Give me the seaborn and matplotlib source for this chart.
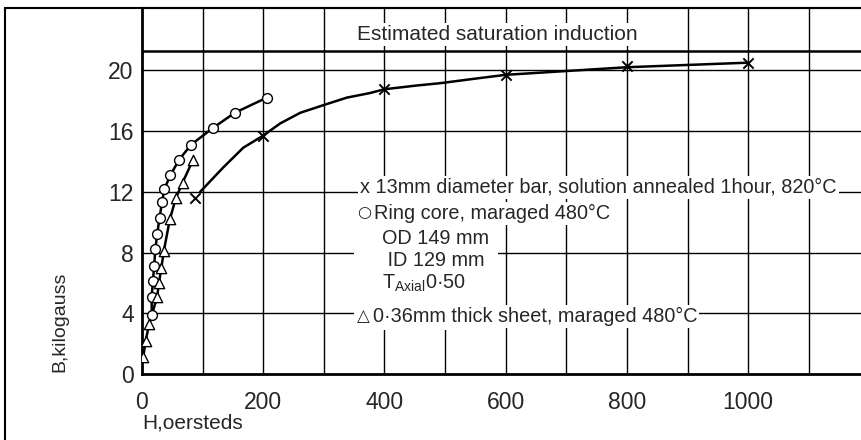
import matplotlib
matplotlib.use("Agg")
import matplotlib.pyplot as plt
from matplotlib.lines import Line2D
from matplotlib.patches import Rectangle
import seaborn as sns
import pandas as pd

# ---- data ----
bar_H = [87, 200, 400, 600, 800, 1000]
bar_B = [11.6, 15.7, 18.75, 19.7, 20.3, 20.5]
bar_curve_H = [96, 134, 167, 200, 228, 261, 299, 338, 376, 400, 454, 492, 550, 600, 700, 800, 900, 1000]
bar_curve_B = [12.0, 13.6, 14.9, 15.7, 16.5, 17.2, 17.7, 18.2, 18.5, 18.75, 19.0, 19.15, 19.45, 19.7, 19.95, 20.2, 20.35, 20.5]

ring_H = [16, 16, 18, 20, 22, 25, 29, 33, 37, 47, 61, 81, 117, 153, 206]
ring_B = [3.9, 5.1, 6.1, 7.1, 8.2, 9.2, 10.3, 11.3, 12.2, 13.1, 14.1, 15.1, 16.2, 17.2, 18.2]

sheet_H = [2, 6, 12, 25, 28, 32, 36, 46, 56, 67, 84]
sheet_B = [1.1, 2.2, 3.3, 5.1, 6.0, 7.0, 8.1, 10.2, 11.6, 12.6, 14.1]

saturation_B = 21.3
x_ticks = [0, 200, 400, 600, 800, 1000]
y_ticks = [0, 4, 8, 12, 16, 20]
x_grid = [100, 200, 300, 400, 500, 600, 700, 800, 900, 1000, 1100]
y_grid = [4, 8, 12, 16, 20]

sat_label = "Estimated saturation induction"
bar_label = "x 13mm diameter bar, solution annealed 1hour, 820°C"
ring_symbol = "○"
ring_label = "Ring core, maraged 480°C"
ring_od = "OD 149 mm"
ring_id = " ID 129 mm"
ring_t = r"T$_{\mathrm{Axial}}$0·50"
sheet_symbol = "△"
sheet_label = "0·36mm thick sheet, maraged 480°C"
x_label = "H,oersteds"
y_label = "B,kilogauss"

# ---- drawing ----
sns.set_style("white")
plt.rcParams["font.family"] = ["Liberation Sans", "DejaVu Sans"]
plt.rcParams["mathtext.fontset"] = "custom"
plt.rcParams["mathtext.rm"] = "Liberation Sans"

fig = plt.figure(figsize=(8.61, 4.40), dpi=100)
W, H = 861, 440
ax = fig.add_axes([142 / W, (H - 374) / H, (W - 142) / W, (374 - 8) / H])
ax.set_xlim(0, 1186)
ax.set_ylim(0, 24.1)

for gx in x_grid:
    ax.axvline(gx, color="black", lw=1.0, zorder=1)
for gy in y_grid:
    ax.axhline(gy, color="black", lw=1.0, zorder=1)
ax.axhline(saturation_B, color="black", lw=1.8, zorder=1)

df_curve = pd.DataFrame({"H": bar_curve_H, "B": bar_curve_B})
df_ring = pd.DataFrame({"H": ring_H, "B": ring_B})
df_sheet = pd.DataFrame({"H": sheet_H, "B": sheet_B})
df_bar = pd.DataFrame({"H": bar_H, "B": bar_B})

for d in (df_curve, df_ring, df_sheet):
    sns.lineplot(data=d, x="H", y="B", sort=False, estimator=None, color="black",
                 lw=1.8, ax=ax, zorder=4)

sns.scatterplot(data=df_ring, x="H", y="B", marker="o", s=50, facecolor="white",
                edgecolor="black", linewidth=1.0, ax=ax, zorder=5)
sns.scatterplot(data=df_sheet, x="H", y="B", marker="^", s=55, facecolor="white",
                edgecolor="black", linewidth=1.0, ax=ax, zorder=5)
sns.scatterplot(data=df_bar, x="H", y="B", marker="x", s=55, color="black",
                linewidth=1.4, ax=ax, zorder=5)

# white block behind the ring-core description
ax.add_patch(Rectangle((350, 2.9), 238, 8.8, facecolor="white", edgecolor="none", zorder=2))

tb = dict(facecolor="white", edgecolor="none", pad=1.5)
ax.text(586, 22.35, sat_label, ha="center", va="center", fontsize=15, zorder=3, bbox=tb)
ax.text(360, 12.3, bar_label, ha="left", va="center", fontsize=14.3, zorder=3, bbox=tb)
ax.text(382, 10.6, ring_label, ha="left", va="center", fontsize=14.3, zorder=3, bbox=tb)
ax.text(396, 8.95, ring_od, ha="left", va="center", fontsize=14.3, zorder=3, bbox=tb)
ax.text(396, 7.5, ring_id, ha="left", va="center", fontsize=14.3, zorder=3, bbox=tb)
ax.text(396, 6.0, ring_t, ha="left", va="center", fontsize=14.3, zorder=3, bbox=tb)
ax.text(381, 3.8, sheet_label, ha="left", va="center", fontsize=14.3, zorder=3, bbox=tb)
ax.text(366, 10.65, ring_symbol, ha="center", va="center", fontsize=11.5,
        family="DejaVu Sans", zorder=3.5)
ax.text(365, 3.85, sheet_symbol, ha="center", va="center", fontsize=12,
        family="DejaVu Sans", zorder=3.5)

ax.set_xticks(x_ticks)
ax.set_yticks(y_ticks)
ax.set_xticklabels([str(v) for v in x_ticks], fontsize=16.5)
ax.set_yticklabels([str(v) for v in y_ticks], fontsize=16.5)
ax.tick_params(axis="both", length=0)
ax.tick_params(axis="x", pad=12)
ax.tick_params(axis="y", pad=6)
ax.set_xlabel("")
ax.set_ylabel("")

ax.spines["right"].set_visible(False)
ax.spines["left"].set_linewidth(2.0)
ax.spines["bottom"].set_linewidth(2.0)
ax.spines["top"].set_linewidth(1.5)
for s in ("left", "bottom", "top"):
    ax.spines[s].set_color("black")

fig.text(60 / W, 1 - 322 / H, y_label, rotation=90, ha="center", va="center", fontsize=14)
fig.text(142 / W, 1 - 423 / H, x_label, ha="left", va="center", fontsize=15)

# outer frame of the figure (left and top)
fig.add_artist(Line2D([5 / W, 5 / W], [0, 1 - 8 / H], color="black", lw=1.5))
fig.add_artist(Line2D([5 / W, 1], [1 - 8 / H, 1 - 8 / H], color="black", lw=1.5))

fig.savefig("out.png", dpi=100)
